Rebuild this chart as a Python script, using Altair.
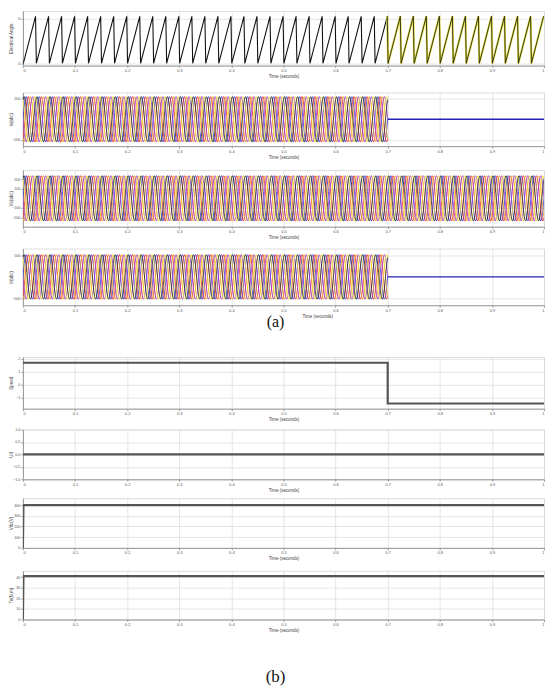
import altair as alt
import numpy as np
import pandas as pd

# ---- values ----
T_END = 1.0
SWITCH_T = 0.7
X_TICKS = [0, 0.1, 0.2, 0.3, 0.4, 0.5, 0.6, 0.7, 0.8, 0.9, 1.0]

ANGLE_PERIOD = 0.025          # one saw tooth
ANGLE_MIN, ANGLE_MAX = 0.0, 6.28
ANGLE_TICKS = [0, 2, 4, 6]

WAVE_FREQ = 40                 # Hz
PHASE_DEG = [0, 60, 120, 180, 240, 300]
PHASE_COLORS = ["#2b2bd6", "#e8262a", "#f0a020", "#9b30c8", "#f2dc2a", "#222222"]

I1_AMP, I1_TICKS, I1_DOM = 220, [-200, -100, 100, 200], [-260, 260]
I2_AMP, I2_TICKS, I2_DOM = 240, [-200, -100, 100, 200], [-300, 300]
V_AMP, V_TICKS, V_DOM = 520, [-500, 0, 500], [-660, 660]

STEP_HIGH, STEP_LOW = 1.7, -1.45
STEP_TICKS, STEP_DOM = [-1, 0, 1, 2], [-1.85, 2.15]
ZERO_TICKS, ZERO_DOM, ZERO_VAL = [-1, -0.5, 0, 0.5, 1], [-1, 1], 0.0
SP_TICKS, SP_DOM, SP_VAL = [0, 100, 200, 300, 400], [0, 465], 400
TQ_TICKS, TQ_DOM, TQ_VAL = [0, 10, 20, 30, 40], [0, 46], 41

Y_TITLES = ["Electrical Angle", "Is(abc)", "Vs(abc)", "Ir(abc)",
            "Speed", "Ud", "Vdc(V)", "Te(N.m)"]

W = 524
FONT = "Liberation Sans"
X_LABEL_EXPR = "datum.value == 0 ? '0' : (datum.value == 1 ? '1' : format(datum.value, '.1f'))"


def x_enc(title_x=None):
    kw = dict(values=X_TICKS, title="Time (seconds)", labelFontSize=4,
              titleFontSize=4.5, titleFontWeight="normal", tickSize=2,
              labelPadding=1, titlePadding=1, minExtent=7, maxExtent=7,
              labelColor="#555", titleColor="#444", gridColor="#d4d4d4",
              gridWidth=0.6, domainColor="#999", tickColor="#999",
              labelFlush=True, labelExpr=X_LABEL_EXPR)
    if title_x is not None:
        kw["titleX"] = title_x
    return alt.X("t:Q", scale=alt.Scale(domain=[0, T_END], nice=False), axis=alt.Axis(**kw))


def y_enc(field, dom, ticks, title):
    return alt.Y(f"{field}:Q", scale=alt.Scale(domain=dom, nice=False, zero=False),
                 axis=alt.Axis(values=ticks, title=title, labelFontSize=3.8, titleFontSize=4.5,
                               titleFontWeight="normal", tickSize=2, labelPadding=1,
                               titlePadding=0.5, minExtent=9, maxExtent=9, labelColor="#555",
                               titleColor="#444", gridColor="#d4d4d4", gridWidth=0.6,
                               domainColor="#999", tickColor="#999"))


# ---- panel 1: saw-tooth angle ----
n_teeth = int(round(T_END / ANGLE_PERIOD))
saw_t, saw_v = [], []
for k in range(n_teeth):
    t0 = k * ANGLE_PERIOD
    saw_t += [t0 + 0.0008, t0 + ANGLE_PERIOD - 0.0008]
    saw_v += [ANGLE_MIN, ANGLE_MAX]
saw = pd.DataFrame({"t": saw_t, "v": saw_v})
saw_pre = saw[saw.t <= SWITCH_T + 0.001]
saw_post = saw[saw.t >= SWITCH_T - 0.001]

p1_base = alt.Chart(saw_pre).mark_line(color="#111", strokeWidth=1.1, clip=True).encode(
    x=x_enc(), y=y_enc("v", [-0.3, 7.0], ANGLE_TICKS, Y_TITLES[0]))
p1_y = alt.Chart(saw_post).mark_line(color="#e4df4a", strokeWidth=2.2, clip=True).encode(
    x="t:Q", y="v:Q")
p1_k = alt.Chart(saw_post).mark_line(color="#2a2a10", strokeWidth=0.9, clip=True).encode(
    x="t:Q", y="v:Q")
p1 = alt.layer(p1_base, p1_y, p1_k).properties(width=W, height=55)


def waves(amp, t_stop, n_per_cycle=20):
    n = int(t_stop * WAVE_FREQ * n_per_cycle) + 1
    t = np.linspace(0, t_stop, n)
    rows = []
    for i, ph in enumerate(PHASE_DEG):
        v = amp * np.sin(2 * np.pi * WAVE_FREQ * t - np.deg2rad(ph))
        rows.append(pd.DataFrame({"t": t, "v": v, "ph": f"p{i}", "o": i}))
    return pd.concat(rows, ignore_index=True)


def wave_chart(amp, dom, ticks, title, stop, height, flat, title_x=None):
    df = waves(amp, stop)
    base = alt.Chart(df).mark_line(strokeWidth=0.8, clip=True).encode(
        x=x_enc(title_x), y=y_enc("v", dom, ticks, title),
        color=alt.Color("ph:N", scale=alt.Scale(domain=[f"p{i}" for i in range(len(PHASE_DEG))],
                                                range=PHASE_COLORS), legend=None),
        order="o:O")
    layers = [base]
    if flat:
        fl = pd.DataFrame({"t": [stop, T_END], "v": [0, 0]})
        layers.append(alt.Chart(fl).mark_line(color="#2222b8", strokeWidth=1.3).encode(
            x="t:Q", y="v:Q"))
    return alt.layer(*layers).properties(width=W, height=height)


p2 = wave_chart(I1_AMP, I1_DOM, I1_TICKS, Y_TITLES[1], SWITCH_T, 54, True)
p3 = wave_chart(I2_AMP, I2_DOM, I2_TICKS, Y_TITLES[2], T_END, 57, False)
p4w = wave_chart(V_AMP, V_DOM, V_TICKS, Y_TITLES[3], SWITCH_T, 57, True, title_x=W / 2 + 34)
lab_a = alt.Chart(pd.DataFrame({"s": ["(a)"]})).mark_text(
    font="Liberation Serif", fontSize=16, color="#111", baseline="middle").encode(
    text="s:N", x=alt.value(254), y=alt.value(57 + 17))
p4 = alt.layer(p4w, lab_a).properties(width=W, height=57)


def step_chart(ts, vs, dom, ticks, title, height, extra=None):
    df = pd.DataFrame({"t": ts, "v": vs})
    c = alt.Chart(df).mark_line(color="#555", strokeWidth=2.2, clip=True).encode(
        x=x_enc(), y=y_enc("v", dom, ticks, title))
    layers = [c]
    if extra is not None:
        layers.append(extra)
    return alt.layer(*layers).properties(width=W, height=height)


p5 = step_chart([0, SWITCH_T, SWITCH_T, T_END], [STEP_HIGH, STEP_HIGH, STEP_LOW, STEP_LOW],
                STEP_DOM, STEP_TICKS, Y_TITLES[4], 52)
p6 = step_chart([0, T_END], [ZERO_VAL, ZERO_VAL], ZERO_DOM, ZERO_TICKS, Y_TITLES[5], 50)
p7 = step_chart([0, 0.001, T_END], [0, SP_VAL, SP_VAL], SP_DOM, SP_TICKS, Y_TITLES[6], 50)
lab_b = alt.Chart(pd.DataFrame({"s": ["(b)"]})).mark_text(
    font="Liberation Serif", fontSize=17, color="#111", baseline="middle").encode(
    text="s:N", x=alt.value(254), y=alt.value(49 + 58))
p8 = step_chart([0, 0.001, T_END], [0, TQ_VAL, TQ_VAL], TQ_DOM, TQ_TICKS, Y_TITLES[7], 49, lab_b)

charts = [p1, p2, p3, p4, p5, p6, p7, p8]
spacings = [13, 10, 8, 25, 5, 5, 9]

result = charts[-1]
for i in range(len(charts) - 2, -1, -1):
    result = alt.vconcat(charts[i], result, spacing=spacings[i])

chart = result.properties(padding=0).configure_view(stroke="#999", strokeWidth=0.8).configure(
    font=FONT)

chart.save("out.html", embed_options={"renderer": "svg", "actions": False})
